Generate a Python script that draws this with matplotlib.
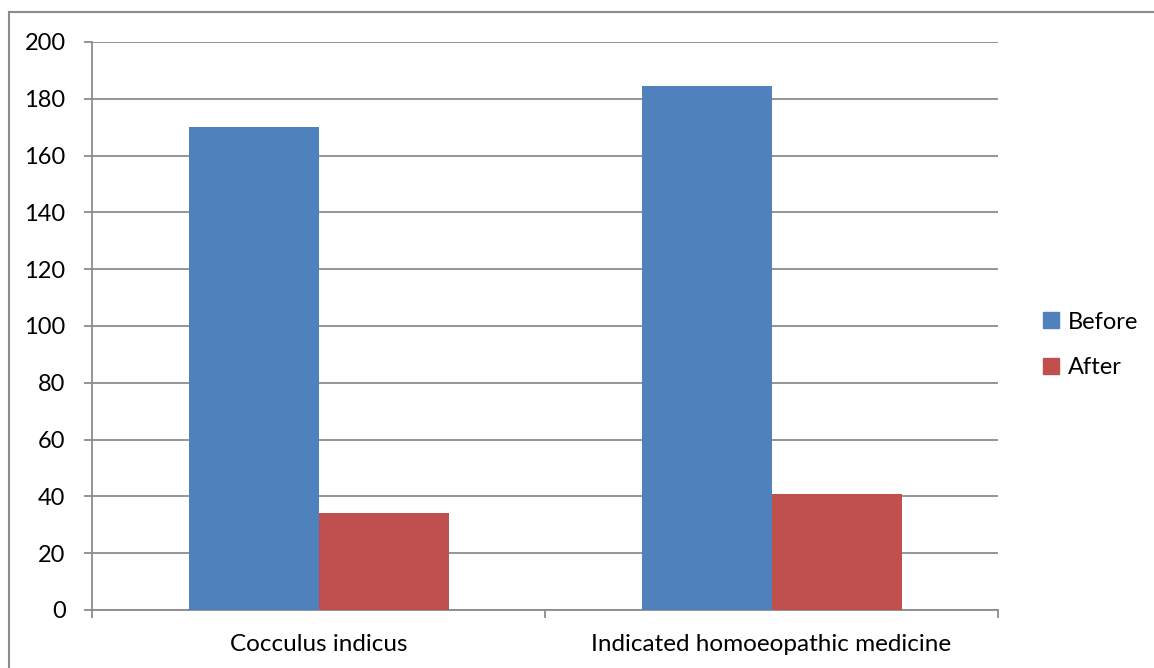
import matplotlib
matplotlib.use("Agg")
import matplotlib.pyplot as plt
from matplotlib.patches import Patch
from matplotlib.lines import Line2D

categories = ["Cocculus indicus", "Indicated homoeopathic medicine"]
before = [170, 184.5]
after = [34, 41]
series_names = ["Before", "After"]
colors = ["#4F81BD", "#C0504D"]
yticks = [0, 20, 40, 60, 80, 100, 120, 140, 160, 180, 200]

plt.rcParams["font.family"] = ["Lato", "DejaVu Sans"]
grey = "#8C8C8C"

fig = plt.figure(figsize=(11.54, 6.68), dpi=100)
ax = fig.add_axes([92 / 1154, 58 / 668, 906 / 1154, 568 / 668])

# frame around the chart area (top and left only, like the source crop)
fig.add_artist(Line2D([9 / 1154, 1], [1 - 12 / 668] * 2, color=grey, lw=1.5, transform=fig.transFigure))
fig.add_artist(Line2D([9 / 1154, 9 / 1154], [0, 1 - 12 / 668], color=grey, lw=1.5, transform=fig.transFigure))

x = list(range(len(categories)))
w = 130 / 453
ax.bar([i - w / 2 for i in x], before, width=w, color=colors[0], zorder=3)
ax.bar([i + w / 2 for i in x], after, width=w, color=colors[1], zorder=3)

ax.set_xlim(-0.5, len(categories) - 0.5)
ax.set_ylim(0, 200)
ax.set_yticks(yticks)
ax.yaxis.grid(True, color=grey, lw=1.3, zorder=0)
ax.tick_params(axis="y", length=6, width=1.3, color=grey, pad=13, labelsize=17)

ax.set_xticks(x)
ax.set_xticklabels(categories)
ax.set_xticks([-0.5, 0.5, 1.5], minor=True)
ax.tick_params(axis="x", which="major", length=0, pad=17, labelsize=17.5)
ax.tick_params(axis="x", which="minor", length=6, width=1.3, color=grey)

for s in ["top", "right"]:
    ax.spines[s].set_visible(False)
for s in ["left", "bottom"]:
    ax.spines[s].set_color(grey)
    ax.spines[s].set_linewidth(1.3)

handles = [Patch(color=c, label=n) for c, n in zip(colors, series_names)]
fig.legend(handles=handles, loc="center left", bbox_to_anchor=(1022 / 1154, 1 - 345 / 668),
           frameon=False, fontsize=17, handlelength=0.65, handleheight=0.65,
           handletextpad=0.4, labelspacing=1.05)

fig.savefig("out.png", dpi=100)
